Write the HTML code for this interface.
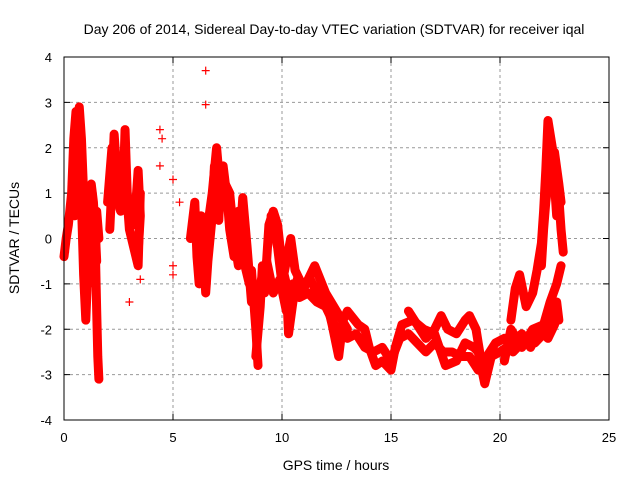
<!DOCTYPE html>
<html><head><meta charset="utf-8"><style>
body{margin:0;background:#fff}
svg{font-family:"Liberation Sans",sans-serif;display:block}
</style></head><body>
<svg id="chart" width="640" height="480" viewBox="0 0 640 480">
<text x="334" y="34" font-size="14" text-anchor="middle">Day 206 of 2014, Sidereal Day-to-day VTEC variation (SDTVAR) for receiver iqal</text>
<text x="336" y="470" font-size="14" text-anchor="middle">GPS time / hours</text>
<text transform="translate(19,238) rotate(-90)" font-size="14" text-anchor="middle">SDTVAR / TECUs</text>
<g id="grid"></g>
<g id="marks"></g>
<rect x="64" y="57" width="545" height="363" fill="none" stroke="#000" stroke-width="1"/>
</svg>
<script>
const xTicks=[0,5,10,15,20,25];
const yTicks=[-4,-3,-2,-1,0,1,2,3,4];
const track1=[[0,-0.4],[0.1,0.0],[0.2,0.3],[0.35,1.0],[0.45,2.2],[0.55,2.8],[0.65,2.4],[0.7,1.6],[0.8,0.8],[0.9,-0.8],[1.0,-1.8],[1.05,-1.2],[1.15,0.3],[1.25,1.2],[1.35,0.8],[1.45,0.0],[1.5,-0.5]];
const track1b=[[0.4,1.3],[0.5,0.5],[0.6,1.2],[0.7,2.9],[0.8,2.2],[0.9,1.0],[1.0,0.7],[1.1,1.0],[1.2,0.2],[1.3,-0.4],[1.4,-1.0],[1.5,0.6],[1.6,0.0]];
const track2=[[1.45,-0.5],[1.5,-1.6],[1.55,-2.6],[1.6,-3.1]];
const track3=[[2.1,0.2],[2.2,1.2],[2.3,2.3],[2.4,1.6],[2.5,1.0],[2.7,0.8],[2.8,2.4],[2.9,1.0],[3.0,0.6],[3.2,0.3],[3.3,0.8],[3.4,1.5],[3.5,0.5],[3.4,-0.3]];
const track3b=[[2.0,0.8],[2.2,2.0],[2.4,0.9],[2.6,0.6],[2.8,1.5],[3.0,0.2],[3.2,-0.2],[3.4,-0.6],[3.5,1.0]];
const track5=[[5.8,0.0],[6.0,0.8],[6.1,-0.4],[6.2,-1.0],[6.3,0.5],[6.4,-0.3],[6.5,-1.2],[6.6,-0.5],[6.8,0.5],[6.9,1.6],[7.0,1.2],[7.1,0.4],[7.2,1.5],[7.3,1.6],[7.5,0.8],[7.6,0.2],[7.8,-0.4],[8.0,0.6],[8.1,0.2],[8.3,-0.6],[8.5,-1.0],[8.6,-0.7],[8.8,-2.0],[8.9,-2.8]];
const track5b=[[6.0,0.3],[6.2,-0.2],[6.4,-0.8],[6.6,0.3],[6.8,1.0],[7.0,2.0],[7.2,0.9],[7.4,1.2],[7.6,1.0],[7.8,0.0],[8.0,-0.6],[8.2,0.9],[8.4,-0.2],[8.6,-1.4],[8.8,-1.2]];
const track6=[[8.8,-2.6],[9.0,-1.5],[9.1,-0.6],[9.2,-1.2],[9.4,0.3],[9.6,0.6],[9.8,0.3],[10.0,-0.6],[10.2,-1.0],[10.3,-2.1],[10.5,-1.4],[10.7,-0.9],[11.0,-1.0],[11.3,-0.9],[11.6,-1.2],[12.0,-1.3],[12.3,-1.9],[12.6,-2.6],[12.8,-1.8],[13.0,-1.6],[13.5,-1.9],[13.8,-2.0],[14.0,-2.4],[14.3,-2.8],[14.6,-2.7],[15.0,-2.9],[15.2,-2.4],[15.5,-1.9],[16.0,-1.8],[16.5,-2.0],[17.0,-2.1],[17.5,-2.8],[18.0,-2.7],[18.4,-2.3],[18.8,-2.4],[19.0,-2.5],[19.3,-3.2],[19.6,-2.6],[20.0,-2.5],[20.3,-2.4],[20.6,-2.5],[21.0,-2.3],[21.3,-2.2],[21.6,-2.3],[22.0,-2.1],[22.3,-1.8],[22.6,-1.4],[22.7,-1.8]];
const track6b=[[9.0,-1.0],[9.3,-0.5],[9.6,-1.2],[9.9,-0.9],[10.2,-1.6],[10.5,-1.0],[10.8,-1.3],[11.2,-1.2],[11.6,-1.4],[12.0,-1.5],[12.5,-2.0],[13.0,-2.2],[13.4,-2.1],[13.8,-2.4],[14.2,-2.5],[14.6,-2.4],[15.0,-2.7],[15.4,-2.2],[15.8,-2.1],[16.2,-2.3],[16.6,-2.5],[17.0,-2.3],[17.4,-2.5],[17.8,-2.5],[18.2,-2.6],[18.6,-2.6],[19.0,-2.9],[19.4,-2.6],[19.8,-2.3],[20.2,-2.2],[20.6,-2.3],[21.0,-2.1],[21.4,-2.4],[21.8,-2.0],[22.2,-2.2],[22.5,-1.9]];
const track7=[[9.5,0.5],[9.8,-0.2],[10.0,-1.0],[10.4,0.0],[10.6,-0.7],[11.0,-1.1],[11.5,-0.6],[12.0,-1.2],[12.5,-1.6],[13.0,-2.0]];
const track8=[[15.8,-1.6],[16.2,-1.9],[16.6,-2.2],[17.0,-2.0],[17.3,-1.7],[17.6,-2.0],[18.0,-2.1],[18.4,-1.8],[18.6,-1.7],[18.9,-2.0],[19.1,-2.6]];
const track9=[[20.5,-1.8],[20.7,-1.1],[20.9,-0.8],[21.2,-1.5],[21.5,-1.2],[21.7,-0.7],[21.9,-0.1],[22.0,0.6],[22.1,1.5],[22.2,2.6],[22.4,2.0],[22.5,1.2],[22.6,0.5],[22.7,0.9],[22.8,0.2],[22.9,-0.3]];
const track9b=[[21.9,-0.6],[22.0,0.2],[22.1,0.8],[22.3,1.6],[22.5,1.9],[22.7,1.2],[22.8,0.8]];
const track10=[[20.2,-2.7],[20.5,-2.0],[21.0,-2.4],[21.5,-2.0],[22.0,-1.9],[22.3,-1.4],[22.6,-1.0],[22.8,-0.6]];
const isolated=[[4.4,2.4],[4.5,2.2],[4.4,1.6],[5.0,-0.6],[5.0,-0.8],[5.0,1.3],[3.0,-1.4],[3.5,-0.9],[6.5,3.7],[6.5,2.95],[0.05,-0.3],[5.3,0.8]];
const tracks=[track1,track1b,track2,track3,track3b,track5,track5b,track6,track6b,track7,track8,track9,track9b,track10];

const NS='http://www.w3.org/2000/svg';
const X0=64,X1=609,Y0=420,Y1=57;
const xs=t=>X0+(t-0)/(25-0)*(X1-X0);
const ys=v=>Y0-(v+4)/8*(Y0-Y1);
const grid=document.getElementById('grid');
const marks=document.getElementById('marks');
const svg=document.getElementById('chart');
function mk(tag,attrs,parent){const e=document.createElementNS(NS,tag);for(const k in attrs)e.setAttribute(k,attrs[k]);parent.appendChild(e);return e;}
xTicks.forEach(t=>{const x=xs(t);
 if(t>0&&t<25){const l=mk('line',{x1:x,x2:x,y1:Y1,y2:Y0,stroke:'#999','stroke-dasharray':'3,3'},grid);}
 const tk=mk('line',{x1:x,x2:x,y1:Y0,y2:Y0-6,stroke:'#000'},grid);
 const tk2=mk('line',{x1:x,x2:x,y1:Y1,y2:Y1+6,stroke:'#000'},grid);
 const tx=mk('text',{x:x,y:442,'font-size':13,'text-anchor':'middle'},svg);tx.textContent=t;});
yTicks.forEach(v=>{const y=ys(v);
 if(v>-4&&v<4){const l=mk('line',{x1:X0,x2:X1,y1:y,y2:y,stroke:'#999','stroke-dasharray':'3,3'},grid);}
 const tk=mk('line',{x1:X0,x2:X0+6,y1:y,y2:y,stroke:'#000'},grid);
 const tk2=mk('line',{x1:X1,x2:X1-6,y1:y,y2:y,stroke:'#000'},grid);
 const tx=mk('text',{x:52,y:y+5,'font-size':13,'text-anchor':'end'},svg);tx.textContent=v;});
function plus(t,v){const x=xs(t),y=ys(v);
 const p=mk('path',{d:`M${x-4},${y}H${x+4}M${x},${y-4}V${y+4}`,stroke:'#f00','stroke-width':1.2,fill:'none'},marks);
 
 }
tracks.forEach(tr=>{
 const pl=mk('polyline',{points:tr.map(p=>xs(p[0])+','+ys(p[1])).join(' '),fill:'none',stroke:'#f00','stroke-width':9,'stroke-linejoin':'round','stroke-linecap':'round'},marks);
 
 
 tr.forEach(p=>plus(p[0],p[1]));});
isolated.forEach(p=>plus(p[0],p[1]));
</script>
</body></html>
